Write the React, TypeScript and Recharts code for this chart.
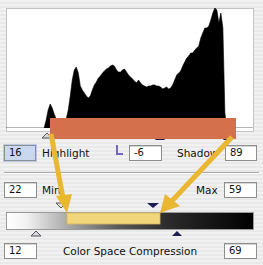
import React from "react";
import { AreaChart, Area, XAxis, YAxis } from "recharts";

// Histogram counts, one per 2-level bin across the tonal range (shadow → highlight)
const histogramCounts = [
  0, 0, 0, 0, 0, 0, 0, 0, 0, 0, 0, 0, 0, 0, 0, 0, 0, 0, 0, 0,
  8, 18, 24, 20, 14, 9, 7, 6, 6, 7, 9, 18, 32, 48, 58, 61, 55, 42, 38, 35,
  32, 30, 32, 38, 43, 46, 50, 52, 55, 57, 59, 60, 62, 63, 62, 58, 56, 56, 58, 59,
  56, 53, 51, 49, 47, 45, 48, 45, 43, 42, 41, 42, 42, 43, 43, 42, 42, 41, 39, 40,
  41, 39, 40, 43, 48, 53, 55, 57, 62, 66, 70, 72, 75, 75, 78, 80, 82, 90, 95, 100,
  100, 102, 108, 115, 120, 118, 105, 115, 100, 15,
  0, 0, 0, 0, 0, 0, 0, 0, 0, 0, 0, 0, 0, 0,
];
const histogramData = histogramCounts.map((count, bin) => ({ bin, count }));

const row1Labels = ["Highlight", "Shadow"];
const row1Values = ["16", "-6", "89"];
const row2Labels = ["Min", "Max"];
const row2Values = ["22", "59"];
const row3Label = "Color Space Compression";
const row3Values = ["12", "69"];

const FONT = "'DejaVu Sans', Verdana, sans-serif";

function Field({ x, y, w, h, value, selected }: { x: number; y: number; w: number; h: number; value: string; selected?: boolean }) {
  return (
    <div
      style={{
        position: "absolute",
        left: x,
        top: y,
        width: w,
        height: h,
        boxSizing: "border-box",
        border: "1px solid #8e8e8e",
        boxShadow: selected ? "0 0 0 1px #b9cbe6" : "inset 0 1px 0 #d6d6d6",
        background: selected ? "#c9d8ef" : "#ffffff",
        fontSize: 10,
        lineHeight: `${h - 2}px`,
        paddingLeft: 4,
        color: "#111",
      }}
    >
      {value}
    </div>
  );
}

function Label({ x, y, text, center, w }: { x: number; y: number; text: string; center?: boolean; w?: number }) {
  return (
    <div
      style={{
        position: "absolute",
        left: x,
        top: y,
        width: w,
        textAlign: center ? "center" : "left",
        fontSize: 10.5,
        color: "#111",
        whiteSpace: "nowrap",
        lineHeight: "14px",
      }}
    >
      {text}
    </div>
  );
}

export default function App() {
  return (
    <div
      style={{
        position: "absolute",
        left: 0,
        top: 0,
        width: 263,
        height: 265,
        overflow: "hidden",
        fontFamily: FONT,
        background: "repeating-linear-gradient(to bottom, #f1f1f1 0px, #f1f1f1 2px, #e9e9e9 2px, #e9e9e9 4px)",
      }}
    >
      {/* histogram frame */}
      <div
        style={{
          position: "absolute",
          left: 6,
          top: 8,
          width: 248,
          height: 124,
          boxSizing: "border-box",
          border: "1px solid #c4c4c4",
          background: "#ffffff",
        }}
      />
      <div style={{ position: "absolute", left: 6, top: 8 }}>
        <AreaChart width={247} height={120} data={histogramData} margin={{ top: 0, right: 0, bottom: 0, left: 0 }}>
          <XAxis dataKey="bin" hide />
          <YAxis domain={[0, 120]} hide />
          <Area
            type="linear"
            dataKey="count"
            stroke="#000"
            strokeWidth={0.6}
            fill="#000"
            fillOpacity={1}
            isAnimationActive={false}
            dot={false}
            activeDot={false}
          />
        </AreaChart>
      </div>

      {/* widgets */}
      <svg width={263} height={265} style={{ position: "absolute", left: 0, top: 0 }}>
        {/* sliders under histogram */}
        <polygon points="42,138 47,133 52,138" fill="#d8d8d8" stroke="#555" strokeWidth={1} />
        <polygon points="155,140 160,134 165,140" fill="#1e1e55" />
        <polygon points="223,140 228,134 233,140" fill="#1e1e55" />
        {/* orange highlight bar */}
        <rect x={50} y={118} width={186} height={21} fill="#d4704b" />

        {/* separator */}
        <line x1={4} y1={172.5} x2={259} y2={172.5} stroke="#a8a8a8" strokeWidth={1} />
        <line x1={4} y1={173.5} x2={259} y2={173.5} stroke="#ffffff" strokeWidth={1} />

        {/* gradient bar */}
        <defs>
          <linearGradient id="grad" x1="0" y1="0" x2="1" y2="0">
            <stop offset="0%" stopColor="#ffffff" />
            <stop offset="8%" stopColor="#f2f2f2" />
            <stop offset="25%" stopColor="#a8a8a8" />
            <stop offset="45%" stopColor="#5a5a5a" />
            <stop offset="65%" stopColor="#2c2c2c" />
            <stop offset="100%" stopColor="#000000" />
          </linearGradient>
        </defs>
        <rect x={6.5} y={212.5} width={247} height={17} fill="url(#grad)" stroke="#9a9a9a" />
        <rect x={67} y={213} width={93} height={11} fill="#f1d67c" stroke="#d9b85a" strokeWidth={0.8} />

        {/* gradient sliders */}
        <polygon points="56,203 66,203 61,208" fill="#e0e0e0" stroke="#555" strokeWidth={1} />
        <polygon points="147,203 159,203 153,208" fill="#1e1e55" />
        <polygon points="31,236 36,231 41,236" fill="#d8d8e4" stroke="#555" strokeWidth={1} />
        <polygon points="172,236 177,231 182,236" fill="#1e1e55" />

        {/* L icon */}
        <path d="M117,145 L117,154 L123,154" fill="none" stroke="#7467c2" strokeWidth={2} />
      </svg>

      {/* row 1 */}
      <Field x={4} y={145} w={32} h={16} value={row1Values[0]} selected />
      <Label x={42} y={146} text={row1Labels[0]} />
      <Field x={129} y={145} w={33} h={16} value={row1Values[1]} />
      <Label x={177} y={146} text={row1Labels[1]} />
      <Field x={225} y={145} w={32} h={16} value={row1Values[2]} />

      {/* row 2 */}
      <Field x={4} y={182} w={33} h={16} value={row2Values[0]} />
      <Label x={42} y={183} text={row2Labels[0]} />
      <Label x={196} y={183} text={row2Labels[1]} />
      <Field x={224} y={182} w={33} h={16} value={row2Values[1]} />

      {/* row 3 */}
      <Field x={4} y={243} w={33} h={16} value={row3Values[0]} />
      <Label x={40} y={244} w={180} center text={row3Label} />
      <Field x={224} y={243} w={33} h={16} value={row3Values[1]} />

      {/* yellow annotation arrows, drawn over everything */}
      <svg width={263} height={265} style={{ position: "absolute", left: 0, top: 0 }}>
        <line x1={51} y1={134} x2={63} y2={198} stroke="#e9b732" strokeWidth={5} />
        <polygon points="56,196 72,194 67,213" fill="#e9b732" />
        <line x1={232} y1={137} x2={170} y2={203} stroke="#e9b732" strokeWidth={5} />
        <polygon points="160,213 165,194 180,206" fill="#e9b732" />
      </svg>
    </div>
  );
}
